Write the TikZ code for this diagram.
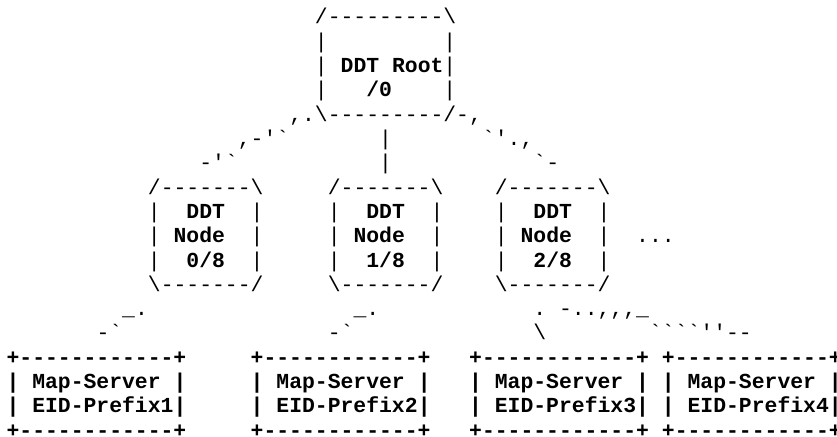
\documentclass[tikz,border=0pt]{standalone}
\usepackage{fontspec}
\setmonofont{Liberation Mono}

% character grid: column pitch and row pitch of the monospaced layout
\newcommand\colzero{314.975}
\newcommand\rowzero{24.0}
\newcommand\cpitch{12.85}
\newcommand\rpitch{24.3}

\tikzset{
  glyphs/.style={anchor=base west, inner sep=0pt, outer sep=0pt,
    font=\ttfamily\fontsize{21.4}{21.4}\selectfont},
  rule/.style={glyphs},
  label/.style={glyphs, font=\ttfamily\bfseries\fontsize{21.4}{21.4}\selectfont},
}

% \gl[style]{name}{column}{row}{text}
\newcommand\gl[5][rule]{%
  \node[#1] (#2) at ({\colzero+\cpitch*(#3)}, {\rowzero+\rpitch*(#4)}) {#5};}

\begin{document}
\begin{tikzpicture}[x=1pt, y=-1pt]
\useasboundingbox (0,0) rectangle (837,436);
\fill[white] (0,0) rectangle (837,436);

% root of the DDT tree
\gl{rootTop}{0}{0}{/---------\textbackslash}
\gl{rootL1}{0}{1}{|}
\gl{rootR1}{10}{1}{|}
\gl{rootL2}{0}{2}{|}
\gl[label]{rootDDT}{2}{2}{DDT}
\gl[label]{rootRoot}{6}{2}{Root}
\gl{rootR2}{10}{2}{|}
\gl{rootL3}{0}{3}{|}
\gl[label]{rootPfx}{4}{3}{/0}
\gl{rootR3}{10}{3}{|}
\gl{rootBot}{-2}{4}{,.\textbackslash---------/-,}

% links from the root down to the DDT nodes
\gl{linkA1}{-6}{5}{,-'`}
\gl{linkB1}{5}{5}{|}
\gl{linkC1}{13}{5}{`'.,}
\gl{linkA2}{-9}{6}{-'`}
\gl{linkB2}{5}{6}{|}
\gl{linkC2}{17}{6}{`-}

% second level DDT nodes
\foreach \c/\p/\n in {-13/0/a, 1/1/b, 14/2/c}{
  \gl{node\n Top}{\c}{7}{/-------\textbackslash}
  \gl{node\n L1}{\c}{8}{|}
  \gl[label]{node\n DDT}{\c+3}{8}{DDT}
  \gl{node\n R1}{\c+8}{8}{|}
  \gl{node\n L2}{\c}{9}{|}
  \gl[label]{node\n Name}{\c+2}{9}{Node}
  \gl{node\n R2}{\c+8}{9}{|}
  \gl{node\n L3}{\c}{10}{|}
  \gl[label]{node\n Pfx}{\c+3}{10}{\p/8}
  \gl{node\n R3}{\c+8}{10}{|}
  \gl{node\n Bot}{\c}{11}{\textbackslash-------/}
}
\gl{moreNodes}{25}{9}{...}

% links from the DDT nodes down to the map servers
\gl{linkD1}{-15}{12}{\_.}
\gl{linkD2}{-17}{13}{-`}
\gl{linkE1}{3}{12}{\_.}
\gl{linkE2}{1}{13}{-`}
\gl{linkF1}{17}{12}{.}
\gl{linkF2}{17}{13}{\textbackslash}
\gl{linkG1}{19}{12}{-..,,,\_}
\gl{linkG2}{26}{13}{````''--}

% map servers
\foreach \c/\k/\n in {-24/1/a, -5/2/b, 12/3/c, 27/4/d}{
  \gl[label]{ms\n Top}{\c}{14}{+------------+}
  \gl[label]{ms\n L1}{\c}{15}{|}
  \gl[label]{ms\n Name}{\c+2}{15}{Map-Server}
  \gl[label]{ms\n R1}{\c+13}{15}{|}
  \gl[label]{ms\n L2}{\c}{16}{|}
  \gl[label]{ms\n Pfx}{\c+2}{16}{EID-Prefix\k}
  \gl[label]{ms\n R2}{\c+13}{16}{|}
  \gl[label]{ms\n Bot}{\c}{17}{+------------+}
}
\end{tikzpicture}
\end{document}
